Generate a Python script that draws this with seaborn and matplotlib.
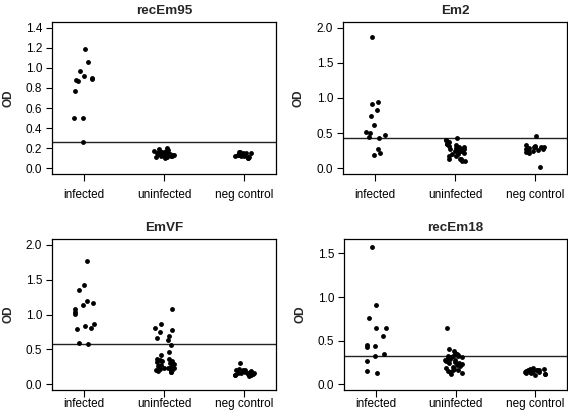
import numpy as np
import pandas as pd
import seaborn as sns
import matplotlib.pyplot as plt

# Groups shown on the x axis
groups = ["infected", "uninfected", "neg control"]

# OD values (one list per group, per antigen)
recEm95_infected = [1.19, 1.06, 0.97, 0.92, 0.90, 0.89, 0.88, 0.87, 0.77, 0.50, 0.50, 0.26]
recEm95_uninfected = [0.20, 0.19, 0.18, 0.17, 0.17, 0.16, 0.16, 0.16, 0.15, 0.15, 0.15, 0.15,
                      0.14, 0.14, 0.14, 0.14, 0.13, 0.13, 0.13, 0.13, 0.12, 0.12, 0.12, 0.11,
                      0.11, 0.10, 0.16, 0.15, 0.14, 0.13]
recEm95_neg = [0.16, 0.16, 0.15, 0.15, 0.15, 0.14, 0.14, 0.14, 0.13, 0.13, 0.13, 0.12,
               0.12, 0.12, 0.11, 0.11, 0.10, 0.10]

Em2_infected = [1.87, 0.94, 0.92, 0.83, 0.74, 0.61, 0.51, 0.50, 0.47, 0.45, 0.43, 0.28, 0.22, 0.19]
Em2_uninfected = [0.43, 0.41, 0.40, 0.38, 0.37, 0.35, 0.34, 0.33, 0.32, 0.31, 0.30, 0.29,
                  0.28, 0.28, 0.27, 0.27, 0.26, 0.25, 0.25, 0.24, 0.23, 0.22, 0.21, 0.20,
                  0.18, 0.17, 0.14, 0.13, 0.13, 0.11, 0.10]
Em2_neg = [0.46, 0.33, 0.32, 0.31, 0.31, 0.30, 0.30, 0.29, 0.28, 0.27, 0.27, 0.26, 0.25,
           0.24, 0.23, 0.22, 0.02]

EmVF_infected = [1.76, 1.42, 1.35, 1.19, 1.17, 1.14, 1.08, 1.03, 1.01, 0.87, 0.84, 0.81,
                 0.79, 0.59, 0.58]
EmVF_uninfected = [1.08, 0.86, 0.80, 0.78, 0.75, 0.69, 0.67, 0.63, 0.57, 0.46, 0.42, 0.37,
                   0.36, 0.35, 0.34, 0.33, 0.32, 0.31, 0.30, 0.29, 0.28, 0.27, 0.26, 0.25,
                   0.24, 0.23, 0.23, 0.22, 0.21, 0.20, 0.20, 0.19, 0.18, 0.18]
EmVF_neg = [0.31, 0.22, 0.21, 0.20, 0.20, 0.19, 0.18, 0.18, 0.17, 0.17, 0.16, 0.16, 0.15,
            0.15, 0.14, 0.14, 0.13, 0.12]

recEm18_infected = [1.57, 0.91, 0.76, 0.65, 0.64, 0.55, 0.45, 0.44, 0.43, 0.35, 0.33, 0.27,
                    0.15, 0.13]
recEm18_uninfected = [0.65, 0.41, 0.38, 0.36, 0.35, 0.34, 0.33, 0.33, 0.32, 0.31, 0.31, 0.30,
                      0.30, 0.29, 0.28, 0.28, 0.27, 0.26, 0.25, 0.24, 0.23, 0.22, 0.21, 0.20,
                      0.19, 0.18, 0.17, 0.16, 0.15, 0.14, 0.13, 0.12]
recEm18_neg = [0.19, 0.18, 0.18, 0.17, 0.17, 0.16, 0.16, 0.15, 0.15, 0.14, 0.14, 0.14, 0.13,
               0.13, 0.12, 0.12, 0.11]

# Cutoff values (horizontal lines)
cutoffs = {"recEm95": 0.26, "Em2": 0.43, "EmVF": 0.575, "recEm18": 0.326}

# y ticks per panel
yticks = {
    "recEm95": [0.0, 0.2, 0.4, 0.6, 0.8, 1.0, 1.2, 1.4],
    "Em2": [0.0, 0.5, 1.0, 1.5, 2.0],
    "EmVF": [0.0, 0.5, 1.0, 1.5, 2.0],
    "recEm18": [0.0, 0.5, 1.0, 1.5],
}
ymax = {"recEm95": 1.4, "Em2": 2.0, "EmVF": 2.0, "recEm18": 1.6}

panels = {
    "recEm95": [recEm95_infected, recEm95_uninfected, recEm95_neg],
    "Em2": [Em2_infected, Em2_uninfected, Em2_neg],
    "EmVF": [EmVF_infected, EmVF_uninfected, EmVF_neg],
    "recEm18": [recEm18_infected, recEm18_uninfected, recEm18_neg],
}

sns.set_style("ticks")
plt.rcParams["font.family"] = ["Liberation Sans", "DejaVu Sans"]

W, H = 568, 418
fig = plt.figure(figsize=(W / 100, H / 100), dpi=100)

# axes boxes in pixels: left, top, width, height
boxes = {
    "recEm95": (52, 22, 224, 152),
    "Em2": (343, 22, 224, 152),
    "EmVF": (52, 239, 224, 151),
    "recEm18": (344, 239, 223, 151),
}
# the bottom row labels sit closer to the box in the reference
xpad = {"recEm95": 6, "Em2": 6, "EmVF": 0.5, "recEm18": 0.5}

np.random.seed(3)
for name, vals in panels.items():
    l, t, w, h = boxes[name]
    ax = fig.add_axes([l / W, 1 - (t + h) / H, w / W, h / H])

    df = pd.DataFrame({
        "group": np.repeat(groups, [len(v) for v in vals]),
        "OD": np.concatenate(vals),
    })
    sns.stripplot(data=df, x="group", y="OD", order=groups, color="black",
                  jitter=0.13, size=3.5, linewidth=0, ax=ax)
    ax.axhline(cutoffs[name], color="#222222", lw=1.0)

    top = ymax[name]
    ax.set_ylim(-0.04 * top, top * 1.04)
    ax.set_xlim(-0.4, 2.4)
    ax.set_yticks(yticks[name])
    ax.set_yticklabels([f"{v:.1f}" for v in yticks[name]])
    ax.set_xlabel("")
    ax.set_ylabel("OD", fontsize=8.5, fontweight="bold")
    ax.yaxis.set_label_coords(-38 / w, 0.5)
    ax.set_title(name, fontsize=9.7, fontweight="bold", pad=6)

    for sp in ax.spines.values():
        sp.set_visible(True)
        sp.set_linewidth(0.9)
        sp.set_color("black")
    ax.tick_params(axis="both", direction="out", width=0.8,
                   labelsize=8.5, colors="black")
    ax.tick_params(axis="x", length=5, pad=xpad[name])
    ax.tick_params(axis="y", length=4, pad=3)

fig.savefig("out.png", dpi=100)
